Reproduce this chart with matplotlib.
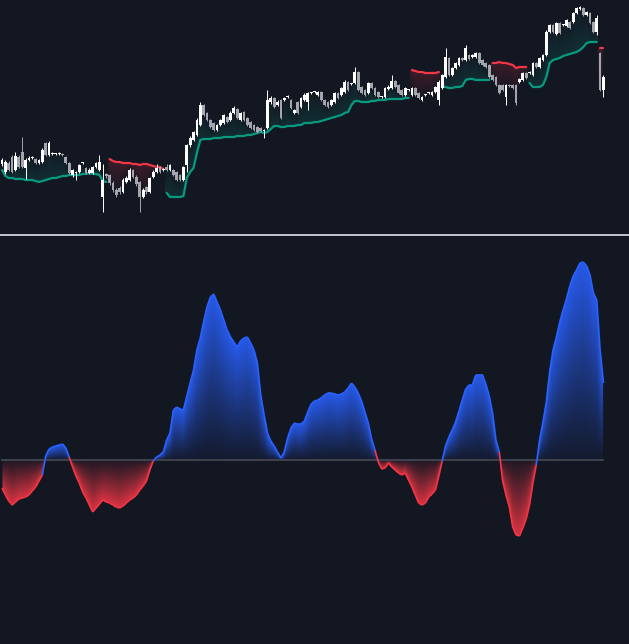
import numpy as np
import matplotlib
matplotlib.use("Agg")
import matplotlib.pyplot as plt
from matplotlib.collections import LineCollection
from matplotlib.colors import to_rgb
from matplotlib.lines import Line2D

# ============================================
# COLORS
# ============================================

BG = "#131722"
UP = "#ffffff"
DOWN = "#a3a6af"
TEAL = "#089981"
RED = "#f23645"
BLUE = "#2962ff"
ZERO = "#434651"
SEP = "#d1d4dc"

# ============================================
# DATA (price panel, one value per bar)
# ============================================

opens = [
    86, 78, 87, 93, 80, 93, 98, 82, 90, 92,
    91, 87, 88, 107, 95, 96, 96, 96, 96, 93,
    87, 75, 77, 78, 87, 82, 77, 77, 83, 80,
    53, 76, 75, 67, 60, 62, 58, 68, 70, 80,
    73, 68, 53, 63, 58, 73, 78, 83, 80, 83,
    80, 80, 78, 75, 70, 85, 105, 110, 115, 125,
    145, 137, 130, 127, 120, 125, 127, 133, 130, 137,
    141, 130, 138, 132, 128, 125, 123, 122, 119, 122,
    148, 152, 145, 150, 150, 153, 150, 137, 148, 143,
    150, 148, 157, 158, 155, 158, 150, 148, 145, 148,
    157, 155, 158, 168, 166, 167, 178, 163, 160, 157,
    167, 162, 158, 153, 153, 161, 162, 169, 165, 160,
    155, 160, 155, 162, 157, 150, 155, 157, 155, 158,
    150, 162, 173, 192, 175, 182, 185, 192, 190, 195,
    193, 193, 197, 190, 187, 185, 175, 173, 165, 165,
    153, 165, 165, 165, 168, 170, 177, 177, 175, 187,
    183, 190, 195, 218, 225, 216, 227, 225, 224, 228,
    228, 237, 241, 242, 235, 237, 228, 218, 197, 160,
]

highs = [
    92, 90, 89, 95, 98, 95, 113, 92, 94, 94,
    92, 91, 102, 108, 109, 98, 97, 98, 97, 94,
    88, 81, 79, 86, 88, 83, 82, 84, 88, 95,
    86, 77, 76, 69, 62, 64, 72, 74, 82, 81,
    75, 69, 62, 64, 73, 80, 86, 84, 82, 86,
    86, 81, 79, 76, 84, 106, 114, 119, 132, 148,
    146, 138, 131, 128, 126, 131, 136, 134, 139, 144,
    142, 138, 139, 133, 129, 126, 124, 123, 121, 160,
    154, 153, 150, 151, 153, 155, 151, 141, 149, 153,
    157, 158, 158, 159, 159, 159, 151, 149, 151, 158,
    158, 163, 170, 169, 167, 183, 179, 164, 161, 168,
    168, 163, 159, 154, 163, 165, 175, 170, 166, 161,
    163, 161, 163, 163, 158, 154, 156, 158, 159, 164,
    170, 176, 202, 193, 183, 188, 193, 193, 205, 196,
    196, 198, 198, 191, 188, 186, 176, 174, 166, 166,
    166, 166, 166, 166, 172, 178, 178, 179, 188, 188,
    193, 196, 220, 226, 226, 228, 228, 226, 231, 229,
    238, 243, 244, 243, 239, 238, 229, 235, 198, 175,
]

lows = [
    84, 76, 79, 77, 79, 82, 82, 71, 89, 91,
    86, 86, 87, 94, 94, 95, 95, 95, 94, 86,
    76, 73, 70, 77, 86, 76, 76, 76, 82, 79,
    38, 72, 65, 58, 53, 56, 57, 67, 69, 72,
    64, 38, 52, 56, 57, 72, 77, 77, 79, 79,
    79, 74, 69, 69, 69, 78, 103, 109, 114, 124,
    134, 129, 122, 119, 119, 124, 126, 127, 129, 136,
    131, 129, 129, 124, 121, 119, 117, 118, 112, 121,
    146, 142, 144, 131, 149, 152, 141, 136, 136, 142,
    149, 140, 156, 157, 154, 149, 144, 142, 144, 147,
    151, 154, 157, 159, 165, 166, 159, 156, 154, 156,
    161, 154, 152, 152, 152, 160, 161, 162, 156, 154,
    154, 159, 154, 154, 151, 149, 154, 156, 154, 157,
    145, 161, 172, 174, 174, 181, 184, 189, 189, 190,
    192, 192, 186, 184, 182, 172, 169, 164, 156, 159,
    145, 163, 161, 145, 167, 169, 171, 176, 174, 182,
    182, 189, 194, 217, 217, 215, 216, 224, 223, 221,
    227, 236, 240, 234, 234, 226, 217, 215, 159, 153,
]

closes = [
    90, 88, 80, 78, 94, 83, 83, 90, 92, 92,
    87, 90, 100, 95, 107, 96, 96, 96, 95, 87,
    77, 80, 78, 85, 87, 77, 80, 83, 87, 88,
    70, 74, 67, 60, 55, 58, 70, 72, 80, 73,
    66, 53, 60, 58, 72, 78, 82, 78, 80, 80,
    85, 75, 70, 70, 83, 105, 112, 118, 130, 145,
    135, 130, 123, 120, 125, 130, 135, 128, 137, 142,
    132, 137, 130, 125, 122, 120, 118, 119, 119, 150,
    152, 143, 148, 132, 152, 153, 142, 140, 137, 152,
    155, 157, 157, 158, 158, 150, 145, 143, 150, 157,
    152, 162, 168, 160, 166, 178, 160, 157, 155, 167,
    162, 155, 153, 153, 162, 163, 169, 163, 157, 155,
    162, 160, 162, 155, 152, 153, 155, 157, 158, 163,
    168, 175, 193, 175, 182, 187, 192, 190, 202, 191,
    195, 197, 187, 185, 183, 173, 170, 165, 157, 160,
    165, 164, 162, 147, 171, 177, 172, 178, 187, 183,
    192, 195, 218, 225, 218, 227, 217, 225, 230, 222,
    237, 242, 243, 235, 238, 227, 218, 232, 160, 173,
]

# trailing stop level
trail_stop = [
    80, 74, 72, 72, 71, 71, 71, 70, 70, 70,
    69, 68, 69, 70, 71, 72, 72, 73, 74, 74,
    75, 75, 75, 75, 76, 76, 77, 76, 76, 75,
    69, 68, 91, 89, 88, 88, 87, 87, 87, 86,
    86, 85, 86, 86, 85, 84, 83, 83, 81, 57,
    53, 53, 53, 53, 54, 72, 78, 82, 97, 110,
    111, 111, 111, 112, 112, 112, 113, 113, 113, 113,
    114, 114, 114, 115, 115, 116, 117, 118, 117, 118,
    121, 124, 124, 123, 123, 124, 124, 124, 125, 125,
    127, 127, 127, 128, 128, 129, 130, 131, 132, 133,
    134, 135, 137, 138, 145, 149, 149, 148, 148, 148,
    149, 149, 150, 150, 150, 151, 151, 151, 151, 151,
    152, 152, 180, 179, 178, 178, 177, 177, 177, 177,
    178, 163, 163, 162, 162, 163, 163, 164, 170, 171,
    171, 170, 170, 170, 170, 170, 187, 187, 188, 187,
    187, 186, 185, 182, 183, 183, 183, 167, 163, 163,
    163, 165, 173, 187, 190, 191, 192, 194, 195, 196,
    197, 198, 200, 203, 207, 208, 208, 208, 202, 202,
]

# ============================================
# DATA (oscillator panel)
# ============================================

osc = [
    -28, -35, -41, -45, -42, -39, -38, -37, -35, -31,
    -27, -21, -15, 4, 11, 13, 14, 15, 16, 12,
    3, -7, -16, -23, -32, -38, -45, -52, -48, -44,
    -40, -42, -43, -45, -47, -48, -46, -43, -40, -38,
    -35, -30, -26, -21, -10, -1, 3, 5, 8, 20,
    27, 50, 53, 51, 50, 64, 77, 90, 110, 122,
    138, 153, 163, 166, 158, 150, 140, 130, 123, 118,
    113, 119, 122, 123, 117, 110, 97, 65, 45, 27,
    19, 14, 8, 2, 8, 22, 32, 37, 36, 36,
    39, 48, 56, 59, 60, 62, 65, 67, 67, 66,
    65, 66, 68, 72, 77, 73, 67, 59, 48, 37,
    21, 10, -2, -9, -8, -3, -7, -10, -13, -15,
    -13, -20, -27, -35, -43, -45, -43, -37, -34, -30,
    -16, -1, 14, 23, 30, 38, 49, 60, 71, 75,
    75, 85, 85, 85, 76, 64, 47, 20, 8, -21,
    -35, -47, -67, -75, -76, -68, -59, -45, -23, -5,
    20, 38, 58, 88, 110, 123, 138, 150, 161, 174,
    184, 190, 197, 198, 194, 185, 167, 160, 110, 77,
]

# ============================================
# ARRAYS
# ============================================

o = np.array(opens, dtype=float)
h = np.array(highs, dtype=float)
l = np.array(lows, dtype=float)
c = np.array(closes, dtype=float)
stop = np.array(trail_stop, dtype=float)
osc = np.array(osc, dtype=float)

n = len(c)
idx = np.arange(n)
is_long = stop < c

XLIM = (-0.6, 186.6)
PRICE_LIM = (15, 250)
OSC_LIM = (-184, 224)

# ============================================
# FIGURE
# ============================================

fig = plt.figure(figsize=(6.29, 6.44), dpi=100, facecolor=BG)
FH = 644.0
ax1 = fig.add_axes([0, 1 - 235 / FH, 1, 235 / FH])
ax2 = fig.add_axes([0, 0, 1, 408 / FH])

# ============================================
# PRICE PANEL
# ============================================

# gradient fill between trailing stop and close
W, HH = 1258, 470
xs = np.linspace(XLIM[0], XLIM[1], W)
ys = np.linspace(PRICE_LIM[0], PRICE_LIM[1], HH)
k = np.clip(np.round(xs).astype(int), 0, n - 1)
k0 = np.clip(np.floor(xs).astype(int), 0, n - 1)
k1 = np.clip(k0 + 1, 0, n - 1)
same = is_long[k0] == is_long[k1]
s_col = np.where(same, np.interp(xs, idx, stop), stop[k])
c_col = np.where(same, np.interp(xs, idx, c), c[k])
valid = (xs >= 0) & (xs <= n - 1)

with np.errstate(divide="ignore", invalid="ignore"):
    t = (ys[:, None] - c_col[None, :]) / (s_col - c_col)[None, :]
inside = (t >= 0) & (t <= 1) & valid[None, :]

img = np.zeros((HH, W, 4))
col_rgb = np.where(is_long[k][:, None], np.array(to_rgb(TEAL)), np.array(to_rgb(RED)))
img[..., :3] = col_rgb[None, :, :]
img[..., 3] = np.where(inside, 0.03 + 0.15 * np.nan_to_num(t), 0.0)
ax1.imshow(img, extent=[xs[0], xs[-1], ys[0], ys[-1]], origin="lower",
           aspect="auto", interpolation="bilinear", zorder=1)

# trailing stop line, one piece per trend run
breaks = np.flatnonzero(np.diff(is_long.astype(int))) + 1
for seg in np.split(idx, breaks):
    ax1.plot(seg, stop[seg], color=TEAL if is_long[seg[0]] else RED,
             lw=1.6, solid_capstyle="round", zorder=2)

# candles
cols = np.where(c >= o, UP, DOWN)
ax1.vlines(idx, l, h, colors=cols, lw=0.7, zorder=3)
body = np.maximum(np.abs(c - o), 1.0)
ax1.bar(idx, body, bottom=np.minimum(o, c), width=0.82, color=cols,
        linewidth=0, zorder=4)

ax1.set_xlim(*XLIM)
ax1.set_ylim(*PRICE_LIM)
ax1.set_axis_off()

# ============================================
# OSCILLATOR PANEL
# ============================================

HO = 816
yo = np.linspace(OSC_LIM[0], OSC_LIM[1], HO)
v = np.interp(xs, idx, osc)
with np.errstate(divide="ignore", invalid="ignore"):
    to = yo[:, None] / v[None, :]
inside_o = (to >= 0) & (to <= 1) & valid[None, :]

img2 = np.zeros((HO, W, 4))
col2 = np.where((v >= 0)[:, None], np.array(to_rgb(BLUE)), np.array(to_rgb(RED)))
img2[..., :3] = col2[None, :, :]
img2[..., 3] = np.where(inside_o, 0.06 + 0.84 * np.nan_to_num(to) ** 1.1, 0.0)
ax2.imshow(img2, extent=[xs[0], xs[-1], yo[0], yo[-1]], origin="lower",
           aspect="auto", interpolation="bilinear", zorder=1)

# outline
pts = np.column_stack([idx, osc])
segs = np.stack([pts[:-1], pts[1:]], axis=1)
seg_cols = [BLUE if val >= 0 else RED for val in osc[1:]]
ax2.add_collection(LineCollection(segs, colors=seg_cols, linewidths=1.2, zorder=3))

# zero line
ax2.plot(idx, np.zeros(n), color=ZERO, lw=1.3, zorder=2)

ax2.set_xlim(*XLIM)
ax2.set_ylim(*OSC_LIM)
ax2.set_axis_off()

# separator between panes
fig.add_artist(Line2D([0, 1], [1 - 235.5 / FH, 1 - 235.5 / FH],
                      transform=fig.transFigure, color=SEP, lw=1.3))

fig.savefig("out.png", dpi=100, facecolor=BG)
